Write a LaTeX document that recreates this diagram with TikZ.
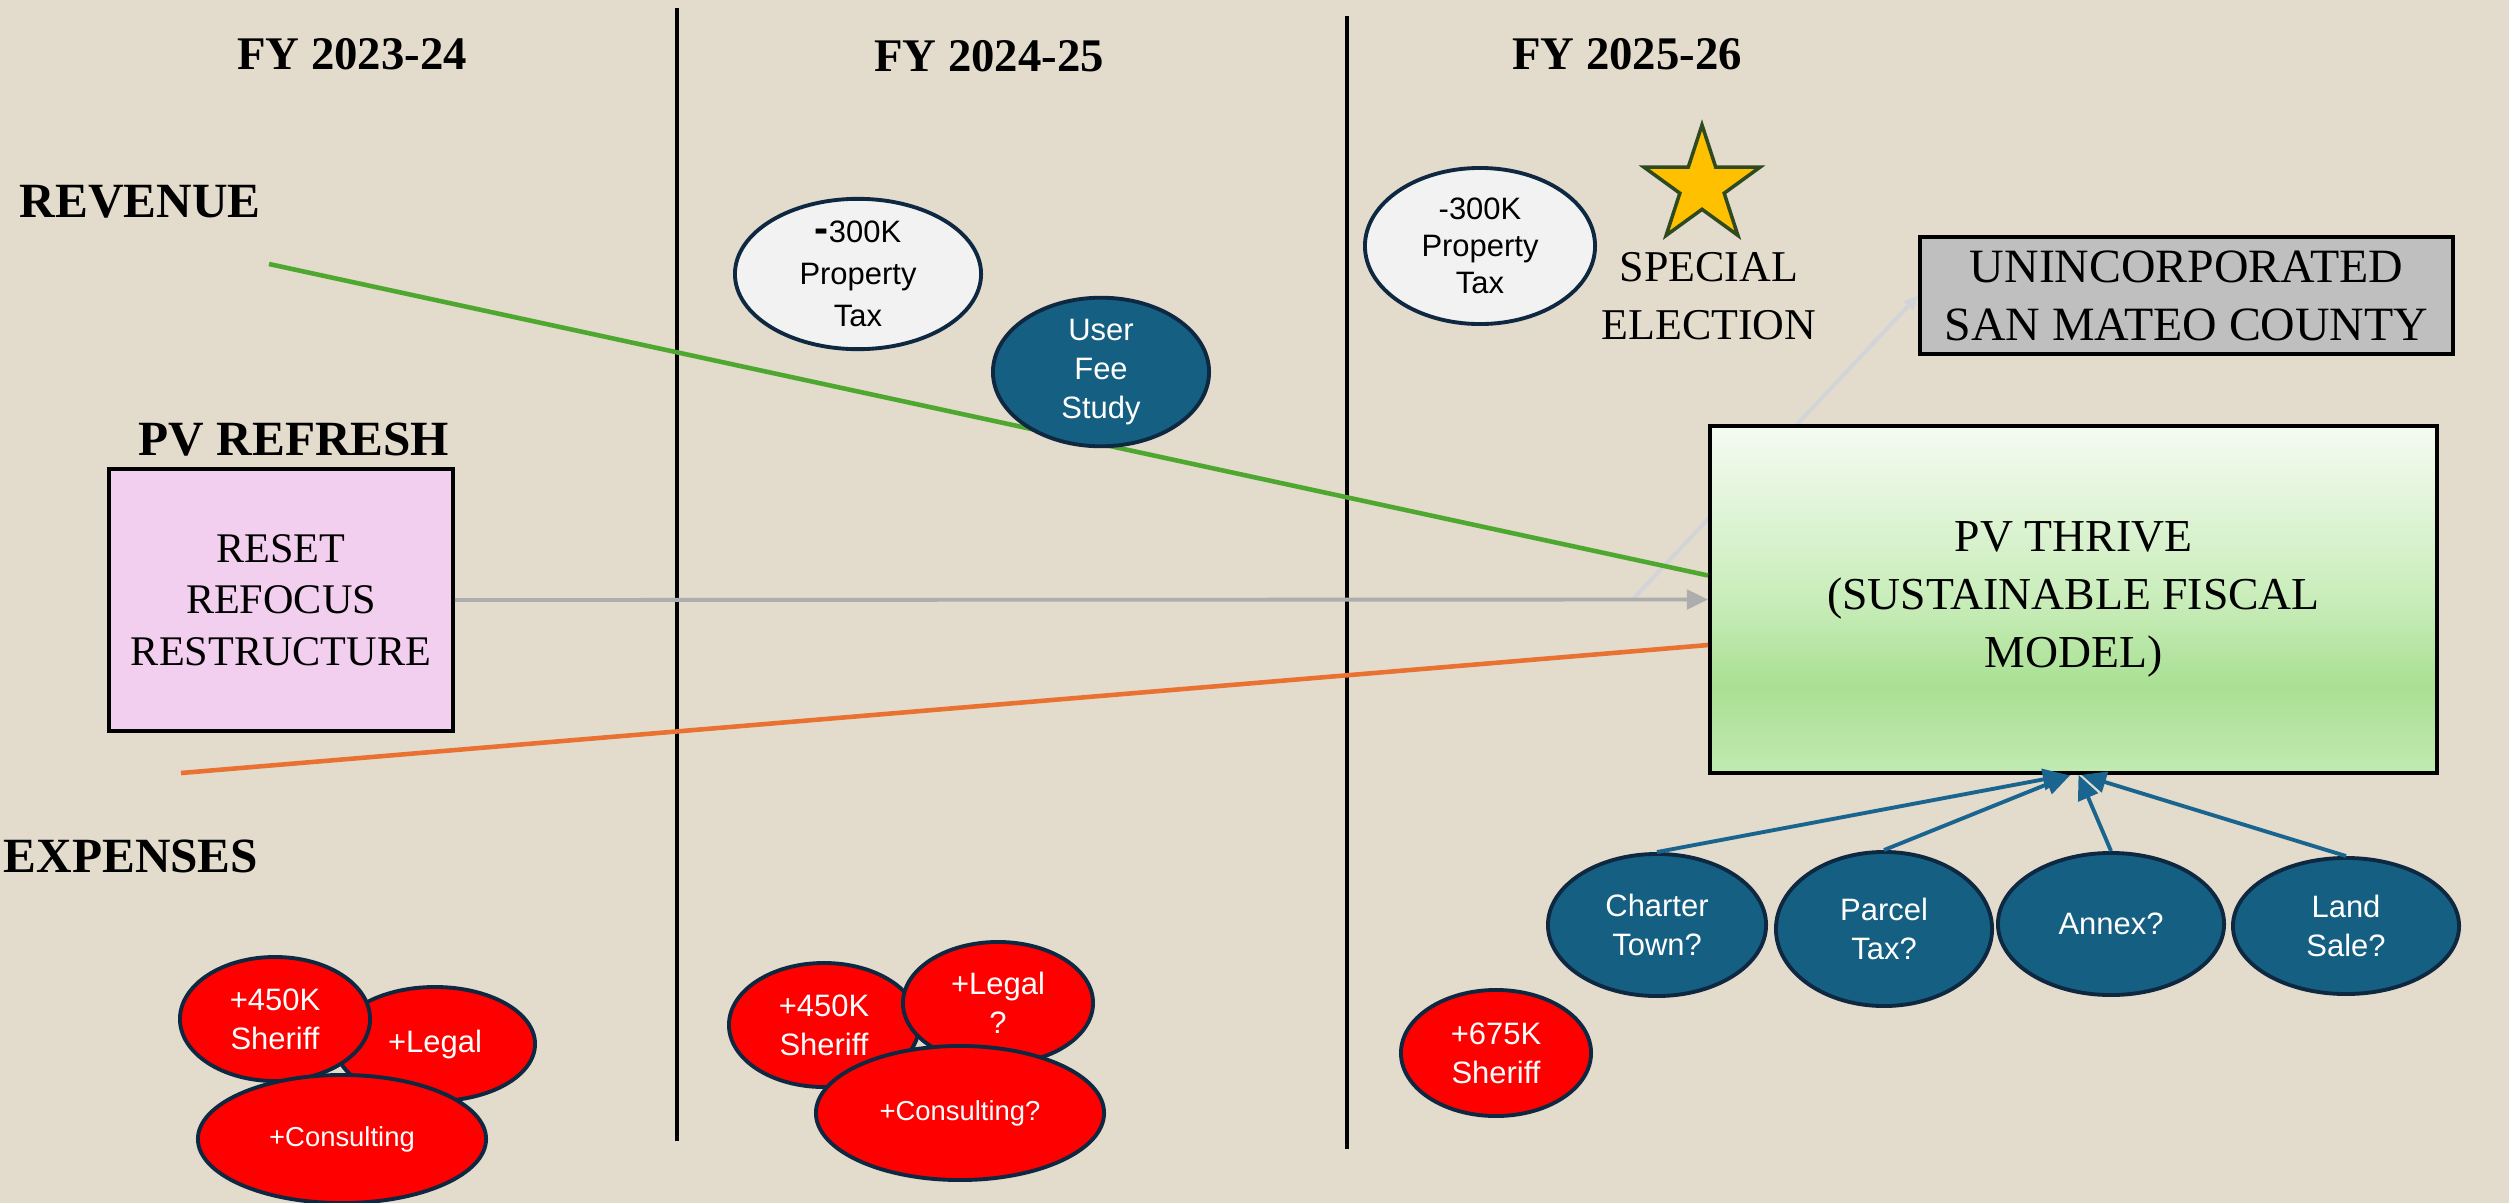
\documentclass[tikz,border=0pt]{standalone}
\usepackage{fontspec}
\setmainfont{Liberation Serif}
\setsansfont{Liberation Sans}
\usetikzlibrary{shapes.geometric,arrows.meta}
\definecolor{bg}{HTML}{E3DBCB}
\definecolor{accblue}{HTML}{156082}
\definecolor{darkline}{HTML}{0E2841}
\definecolor{revgreen}{HTML}{4EA72E}
\definecolor{exporange}{HTML}{E97132}
\definecolor{pinkfill}{HTML}{F2CEEF}
\definecolor{grayfill}{HTML}{BFBFBF}
\definecolor{arrgray}{HTML}{ADADAD}
\definecolor{lightgraytwo}{HTML}{D2D4D8}
\definecolor{starfill}{HTML}{FFC000}
\definecolor{stardraw}{HTML}{2E4A1E}
\definecolor{gTop}{HTML}{F5FBF2}
\definecolor{gMid}{HTML}{C9EDBA}
\definecolor{gDeep}{HTML}{A9E093}
\definecolor{gBot}{HTML}{C2EAB2}
\definecolor{arrblue}{HTML}{1A6590}
\definecolor{bubwhite}{HTML}{F2F2F2}
\pgfdeclareverticalshading{thrive}{100bp}{color(0bp)=(gBot); color(25bp)=(gBot); color(37.5bp)=(gDeep); color(50bp)=(gMid); color(75bp)=(gTop); color(100bp)=(gTop)}
\begin{document}
\begin{tikzpicture}[x=0.01cm,y=-0.01cm,
  heading/.style={font=\fontsize{14}{16}\selectfont\bfseries, inner sep=0},
  fyhead/.style={font=\fontsize{13.3}{16}\selectfont\bfseries, inner sep=0},
  bubble/.style={ellipse, draw=darkline, line width=1.1pt, inner sep=0, align=center,
    font=\sffamily\fontsize{8.8}{11}\selectfont},
  bluebub/.style={bubble, fill=accblue, text=white},
  redbub/.style={bubble, fill=red, text=white},
  whitebub/.style={bubble, fill=bubwhite, text=black},
  serifbox/.style={draw=black, line width=1pt, align=center, inner sep=0},
  vline/.style={line width=0.9pt, black},
  trend/.style={line width=1.3pt},
  uparrow/.style={-{Triangle[length=7pt,width=6pt]}, arrblue, line width=1.1pt},
  sz/.style 2 args={minimum width=#1cm, minimum height=#2cm}]
\useasboundingbox (0,0) rectangle (2509,1203);
\fill[bg] (0,0) rectangle (2509,1203);

% column separators
\draw[vline] (677,8) -- (677,1141);
\draw[vline] (1347,16) -- (1347,1149);

% unincorporated box and its light connector (under the thrive box)
\node[serifbox, fill=grayfill, sz={5.33}{1.17}, font=\fontsize{13.6}{16.5}\selectfont]
  (unincorp) at (2186.5,295.5) {UNINCORPORATED\\SAN MATEO COUNTY};
\coordinate (lgStart) at (1633,599);
\draw[lightgraytwo, line width=1.1pt, -{Triangle[length=4pt,width=3.5pt]}] (lgStart) -- (unincorp.west);

% main boxes
\node[serifbox, shading=thrive, sz={7.27}{3.47}, font=\fontsize{13}{16.5}\selectfont]
  (thrive) at (2073.5,599.5) {PV THRIVE\\(SUSTAINABLE FISCAL\\MODEL)};
\node[serifbox, fill=pinkfill, sz={3.44}{2.62}, font=\fontsize{12}{14.6}\selectfont]
  (refresh) at (281,600) {RESET\\REFOCUS\\RESTRUCTURE};

% trend lines
\coordinate (revStart) at (269,264);
\coordinate (expStart) at (181,773);
\draw[trend, revgreen] (revStart) -- ([yshift=0.24cm]thrive.west);
\draw[trend, exporange] (expStart) -- ([yshift=-0.455cm]thrive.west);
\draw[arrgray, line width=1.1pt, -{Triangle[length=6pt,width=5.5pt]}] (refresh.east) -- (thrive.west);

% headings
\node[fyhead] (fy1) at (352,54) {FY 2023-24};
\node[fyhead] (fy2) at (989,56) {FY 2024-25};
\node[fyhead] (fy3) at (1627,54) {FY 2025-26};
\node[heading, anchor=west] (rev) at (19,202) {REVENUE};
\node[heading, anchor=west] (exp) at (3,856) {EXPENSES};
\node[heading] (pvr) at (294,440) {PV REFRESH};

% revenue bubbles
\node[whitebub, sz={2.46}{1.50}, font=\sffamily\fontsize{8.8}{12}\selectfont] (pt1) at (858,274)
  {{\fontsize{12}{11}\selectfont\bfseries -}300K\\Property\\Tax};
\node[bluebub, sz={2.16}{1.42}] (fee) at (1101,372) {User\\Fee\\Study};
\node[whitebub, sz={2.30}{1.56}, font=\sffamily\fontsize{8.8}{10.6}\selectfont] (pt2) at (1480,246)
  {-300K\\Property\\Tax};

% special election
\node[star, star points=5, star point ratio=2.618, minimum size=1.22cm, inner sep=0,
  fill=starfill, draw=stardraw, line width=1pt] (star) at (1702,186) {};
\node[align=center, inner sep=0, font=\fontsize{12.5}{16.5}\selectfont] (elect) at (1709,296)
  {SPECIAL\\ELECTION};

% options
\node[bluebub, sz={2.18}{1.42}] (charter) at (1657,925) {Charter\\Town?};
\node[bluebub, sz={2.16}{1.54}] (parcel) at (1884,929) {Parcel\\Tax?};
\node[bluebub, sz={2.26}{1.42}] (annex) at (2111,924) {Annex?};
\node[bluebub, sz={2.26}{1.36}] (land) at (2346,926) {Land\\Sale?};
\draw[uparrow] (charter.north) -- ([xshift=-0.06cm]thrive.south);
\draw[uparrow] (parcel.north) -- ([xshift=-0.03cm]thrive.south);
\draw[uparrow] (annex.north) -- ([xshift=0.05cm]thrive.south);
\draw[uparrow] (land.north) -- ([xshift=0.08cm]thrive.south);

% expenses 2023-24
\node[redbub, sz={2.00}{1.14}] (legalA) at (435,1044) {+Legal};
\node[redbub, sz={1.90}{1.24}] (sheriffA) at (275,1019) {+450K\\Sheriff};
\node[redbub, sz={2.88}{1.28}, font=\sffamily\fontsize{7.8}{10}\selectfont] (consultA) at (342,1139) {+Consulting};

% expenses 2024-25
\node[redbub, sz={1.90}{1.24}] (sheriffB) at (824,1025) {+450K\\Sheriff};
\node[redbub, sz={1.90}{1.22}] (legalB) at (998,1003) {+Legal\\?};
\node[redbub, sz={2.88}{1.34}, font=\sffamily\fontsize{7.8}{10}\selectfont] (consultB) at (960,1113) {+Consulting?};

% expenses 2025-26
\node[redbub, sz={1.90}{1.26}] (sheriffC) at (1496,1053) {+675K\\Sheriff};
\end{tikzpicture}
\end{document}
